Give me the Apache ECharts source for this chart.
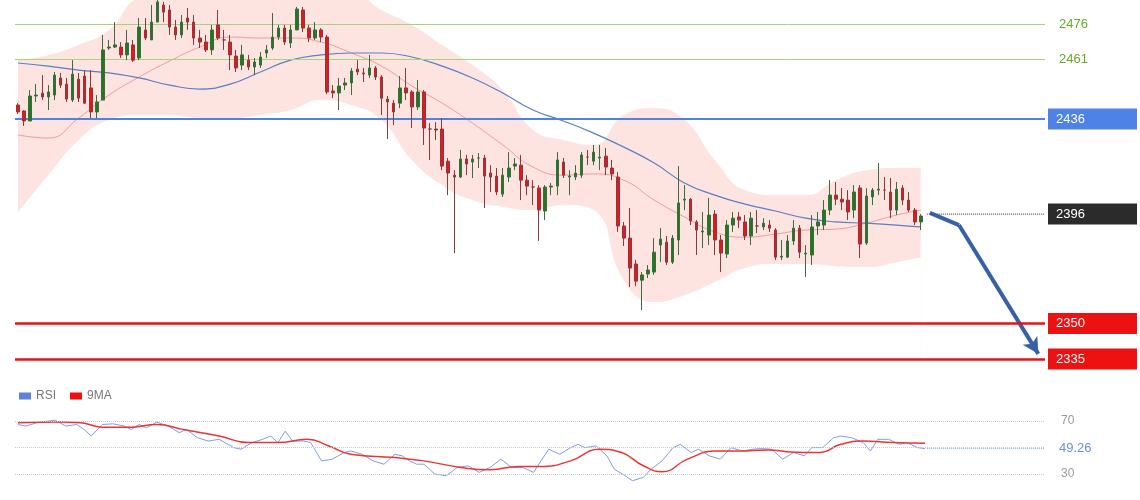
<!DOCTYPE html>
<html><head><meta charset="utf-8">
<script src="https://cdn.jsdelivr.net/npm/echarts@6/dist/echarts.min.js"></script>
<style>html,body{margin:0;padding:0;background:#fff}#c{width:1140px;height:500px}</style>
</head><body><div id="c"></div>
<script>
// candles: [open, close, low, high]
const candles = [
[2441.9,2439.0,2438.1,2442.7],[2439.4,2435.2,2433.1,2439.8],[2435.2,2445.7,2435.2,2448.2],[2445.7,2446.1,2443.2,2450.7],
[2446.9,2445.3,2444.0,2454.5],[2445.3,2447.4,2439.8,2450.3],[2446.1,2454.5,2444.0,2455.8],[2453.3,2450.3,2449.1,2455.4],
[2450.7,2444.4,2443.2,2453.3],[2444.0,2454.9,2443.2,2460.8],[2452.8,2444.8,2443.2,2455.4],[2454.1,2442.7,2442.3,2456.6],
[2449.1,2439.0,2436.4,2456.6],[2439.0,2443.2,2436.4,2446.1],[2444.0,2465.1,2444.0,2471.4],[2465.9,2466.3,2465.1,2469.3],
[2466.3,2467.2,2465.9,2476.8],[2466.3,2463.0,2461.7,2468.4],[2463.0,2468.0,2460.8,2473.5],[2467.2,2460.8,2460.0,2469.3],
[2461.7,2474.7,2460.8,2478.5],[2473.5,2470.1,2469.3,2478.5],[2469.3,2476.8,2469.3,2484.0],[2476.8,2485.3,2476.8,2486.1],
[2484.0,2481.0,2476.8,2485.3],[2481.9,2474.7,2471.4,2484.0],[2474.7,2471.4,2469.3,2477.7],[2471.4,2476.8,2470.1,2479.8],
[2478.5,2476.8,2473.5,2482.7],[2476.8,2470.1,2467.2,2479.8],[2470.1,2468.4,2465.9,2473.5],[2468.4,2465.1,2464.2,2471.4],
[2465.1,2473.5,2463.0,2475.6],[2475.6,2470.1,2469.3,2481.9],[2469.3,2469.3,2465.1,2473.5],[2468.4,2463.0,2456.6,2471.4],
[2462.5,2457.5,2455.8,2465.1],[2458.7,2463.0,2456.6,2467.2],[2460.8,2457.9,2456.6,2463.0],[2457.9,2460.0,2454.5,2461.7],
[2458.7,2462.1,2457.5,2464.2],[2463.8,2465.1,2461.7,2467.2],[2465.9,2470.5,2465.1,2480.6],[2470.5,2474.3,2469.3,2475.6],
[2474.3,2468.4,2467.2,2475.6],[2468.0,2473.5,2465.9,2475.6],[2473.5,2482.3,2473.5,2483.2],[2481.9,2474.3,2472.6,2483.2],
[2474.3,2470.1,2468.4,2475.6],[2470.1,2473.5,2469.3,2476.8],[2473.5,2470.5,2468.4,2474.3],[2470.5,2447.4,2446.5,2471.4],
[2447.8,2447.0,2444.8,2450.3],[2447.0,2449.9,2439.8,2453.3],[2450.3,2451.2,2448.2,2453.3],[2451.2,2456.2,2446.1,2457.5],
[2457.0,2455.8,2454.5,2460.8],[2455.4,2455.0,2451.6,2457.5],[2454.5,2457.5,2453.3,2463.0],[2457.5,2453.7,2452.4,2458.3],
[2453.7,2444.8,2437.7,2454.5],[2444.4,2443.2,2427.6,2445.7],[2442.7,2439.0,2433.5,2444.0],[2442.7,2449.1,2440.6,2454.1],
[2449.1,2447.0,2444.0,2457.5],[2447.4,2441.1,2432.2,2448.2],[2441.1,2447.4,2439.8,2452.4],[2447.4,2432.2,2425.1,2448.2],
[2431.8,2431.8,2418.8,2434.3],[2431.8,2431.4,2427.2,2434.7],[2431.8,2416.2,2414.5,2436.4],[2418.3,2413.3,2404.0,2419.6],
[2412.4,2411.6,2379.6,2414.5],[2411.6,2419.2,2411.2,2423.0],[2419.2,2417.1,2412.4,2420.9],[2417.9,2419.2,2411.2,2420.9],
[2419.6,2419.6,2415.4,2421.7],[2419.6,2412.0,2398.6,2420.9],[2413.3,2411.6,2405.3,2416.6],[2412.0,2405.3,2404.0,2415.4],
[2404.4,2412.4,2403.2,2415.4],[2411.6,2415.4,2409.5,2422.1],[2416.2,2417.1,2414.5,2419.6],[2416.6,2410.3,2401.9,2420.9],
[2410.3,2407.8,2404.0,2412.4],[2407.4,2407.4,2399.8,2410.3],[2407.0,2397.7,2384.7,2408.2],[2397.3,2407.4,2393.5,2408.2],
[2407.4,2407.8,2404.0,2409.1],[2407.8,2418.8,2404.0,2422.1],[2417.9,2412.4,2411.2,2419.6],[2411.6,2412.0,2404.0,2414.5],
[2411.6,2413.3,2410.3,2416.6],[2412.4,2420.9,2411.2,2422.1],[2420.0,2420.0,2416.6,2423.0],[2418.3,2422.1,2416.6,2425.1],
[2419.6,2420.0,2414.5,2425.1],[2420.4,2415.8,2412.4,2423.8],[2415.4,2412.9,2410.3,2418.8],[2411.6,2391.0,2388.5,2413.7],
[2391.0,2385.9,2382.6,2392.7],[2385.9,2373.3,2365.3,2398.6],[2375.0,2367.8,2365.7,2376.7],[2368.2,2370.4,2355.6,2371.6],
[2370.8,2372.5,2369.1,2374.6],[2371.6,2380.0,2370.4,2385.9],[2383.0,2385.5,2375.8,2390.1],[2384.2,2375.8,2374.6,2386.8],
[2375.8,2385.9,2375.0,2387.2],[2385.1,2400.7,2378.8,2416.2],[2401.9,2402.3,2397.7,2408.2],[2402.3,2393.1,2391.4,2402.8],
[2392.7,2389.3,2378.8,2393.5],[2388.5,2388.9,2381.7,2396.9],[2387.2,2395.6,2383.0,2402.8],[2396.0,2385.1,2378.8,2397.7],
[2385.1,2379.6,2371.6,2387.2],[2379.2,2391.4,2377.5,2393.5],[2391.4,2394.3,2388.5,2396.9],[2394.8,2393.5,2390.1,2396.9],
[2392.7,2386.8,2385.1,2395.6],[2386.8,2394.3,2383.0,2396.9],[2391.0,2391.0,2388.0,2397.7],[2390.6,2392.2,2389.3,2394.3],
[2391.4,2390.1,2388.5,2393.5],[2389.3,2377.9,2376.7,2390.1],[2377.9,2378.3,2376.7,2385.1],[2377.9,2384.7,2377.5,2387.2],
[2384.7,2390.1,2383.0,2393.5],[2390.1,2380.0,2377.5,2391.4],[2379.2,2379.6,2369.5,2383.0],[2378.8,2390.6,2374.6,2395.6],
[2391.0,2392.7,2387.2,2396.9],[2391.4,2397.7,2389.3,2401.9],[2397.7,2404.0,2395.6,2410.3],[2404.0,2402.3,2399.8,2409.5],
[2402.3,2401.1,2397.7,2407.0],[2401.9,2396.9,2393.5,2406.1],[2397.7,2405.3,2394.3,2408.2],[2407.0,2383.4,2377.5,2408.2],
[2383.8,2403.6,2383.0,2406.9],[2403.2,2406.1,2399.8,2407.0],[2406.1,2406.5,2404.0,2417.5],[2406.1,2406.1,2401.9,2411.6],
[2405.3,2397.7,2394.3,2411.2],[2397.7,2406.5,2395.6,2409.5],[2407.0,2401.9,2399.8,2408.2],[2401.9,2397.7,2396.9,2405.3],
[2397.7,2392.7,2391.4,2398.6],[2392.7,2395.2,2389.3,2396.0]
];
const sampleIdx = [0,5,10,15,20,25,30,35,40,45,50,55,60,65,70,75,80,85,90,95,100,105,110,115,120,125,130,135,140,145,149];
const bandUpper = [2460.8,2463.0,2467.2,2473.5,2487.0,2489.0,2488.0,2487.0,2487.0,2489.0,2488.0,2489.0,2481.9,2475.6,2467.2,2458.7,2448.2,2431.4,2427.2,2425.1,2437.7,2440.6,2435.6,2418.8,2406.1,2404.0,2404.0,2410.3,2414.5,2415.4,2415.4];
const bandLower = [2396.9,2412.4,2427.2,2435.6,2437.7,2437.7,2436.4,2436.4,2437.7,2439.8,2444.0,2441.9,2435.6,2418.8,2408.2,2401.9,2399.0,2397.7,2399.8,2397.7,2368.2,2359.0,2361.9,2367.4,2373.3,2375.0,2375.0,2374.1,2373.7,2375.8,2377.9];
const maPink = [2429.3,2428.0,2436.4,2446.1,2453.7,2460.4,2466.3,2470.5,2470.1,2470.1,2468.4,2463.8,2458.3,2449.9,2442.7,2434.3,2425.1,2415.8,2412.4,2412.9,2410.3,2401.9,2394.8,2388.5,2386.3,2387.6,2389.3,2389.7,2392.2,2395.6,2397.7];
const maBlue = [2459.6,2458.3,2456.6,2455.4,2453.3,2450.3,2448.6,2450.7,2455.8,2460.8,2463.0,2463.8,2463.8,2462.1,2458.3,2453.3,2447.0,2439.8,2435.2,2430.1,2424.2,2417.5,2409.1,2404.0,2400.2,2397.3,2394.3,2392.7,2392.2,2391.4,2390.6];
const levelsGreen = [2476, 2461];
const levelBlue = 2436;
const levelsRed = [2350, 2335];
const lastPrice = 2396;
const rsiIdx = [0,1.3,3.1,6.1,7.9,9.7,10.9,12.1,13.9,15.7,17.5,18.7,20,21.2,22.9,24.8,26.6,27.8,29.6,31.4,33.2,35.6,36.8,38.6,40.4,41.7,42.9,44.1,45.3,47.1,48.3,50.1,51.9,53.8,54.9,56.8,58.6,60.4,62.2,63.4,64.6,65.8,67.0,68.8,70.7,72.5,74.3,76.1,77.9,79.7,81.5,83.3,85.1,86.3,87.6,89.4,91.2,92.4,93.6,95.4,97.2,98.4,100.2,101.4,103.2,104.5,106.3,108.1,109.3,111.1,112.3,114.1,115.9,117.7,119.5,121.3,122.6,124.4,126.2,128.0,129.8,131.0,132.8,134.6,135.8,137.6,139.5,140.7,141.9,143.7,145.5,146.7,148.5,149.7];
const rsiVal = [67.5,66.3,68.8,70.8,66.3,67.5,63.8,58.8,67.5,68,66.3,63.8,67.5,65,69.3,66.3,61.3,63.8,57.5,55,56.3,50,48.8,53.8,56.3,58.8,53.8,62.5,55,55,53.8,40,41.3,46.3,47.5,45,40,37.5,45,43.8,40,37.5,37.5,30,28.8,35,36.3,31.3,35,41.3,35,35,31.3,40,48.8,45,50,52.5,50,51.3,43.8,33.8,28.8,25,27.5,33.8,40,50,52.5,46.3,48.8,43.8,41.3,50,47.5,48.8,49.3,48.8,41.3,46.3,43.8,50,50,57.5,58.8,57.5,53.8,47.5,56.3,56.3,52.5,53.8,50,49.26];
const ma9Idx = [0,6.9,10.3,13.9,18.7,22.9,27.2,33.2,38.1,42.9,47.7,51.3,54.9,62.2,67.0,73.1,77.9,82.7,86.3,91.2,96.0,99.6,103.2,106.3,110.5,115.3,118.9,123.8,127.4,132.2,135.8,139.5,144.3,149.7];
const ma9Val = [68.8,69.3,68.8,65.5,65.5,67.5,63.8,58.8,53.8,53.8,56.3,51.3,45,42.5,40,35,33.3,35.8,35.8,40,48.8,46.3,36.3,31.8,41.3,47.5,47.5,48.3,46.8,46.3,52.5,55,53.8,53.3];
const rsiRefs = [70, 50, 30];

const cats = [];
for (let i = 0; i < 170; i++) cats.push(i);
const pair = (xs, ys) => xs.map((x, k) => [x, ys[k]]);

const boxLabel = (txt, bg) => ({
  show: true, position: 'end', distance: 3, formatter: txt, color: '#fff',
  backgroundColor: bg, padding: [4, 8], width: 73, fontSize: 13, fontFamily: 'Arial, Liberation Sans'
});
const dotStyle = {color: '#333', width: 1, type: 'dotted'};

const chart = echarts.init(document.getElementById('c'));
chart.setOption({
  animation: false,
  backgroundColor: '#fff',
  legend: {
    data: [{name: 'RSI', icon: 'rect'}, {name: '9MA', icon: 'rect'}],
    left: 14, top: 385, itemWidth: 12, itemHeight: 7, itemGap: 14,
    textStyle: {color: '#777', fontSize: 12, fontFamily: 'Arial, Liberation Sans'}
  },
  grid: [
    {left: 15, right: 95, top: 0, height: 380},
    {left: 15, right: 95, top: 400, height: 90}
  ],
  xAxis: [
    {type: 'category', data: cats, gridIndex: 0, boundaryGap: true, show: false},
    {type: 'value', gridIndex: 0, min: -0.5, max: 169.5, show: false},
    {type: 'value', gridIndex: 1, min: -0.5, max: 169.5, show: false}
  ],
  yAxis: [
    {type: 'value', gridIndex: 0, min: 2326.2, max: 2486.1, show: false, splitLine: {show: false}},
    {type: 'value', gridIndex: 1, min: 18, max: 86, show: false, splitLine: {show: false}}
  ],
  series: [
    {type: 'line', xAxisIndex: 1, yAxisIndex: 0, data: pair(sampleIdx, bandUpper), smooth: true,
     symbol: 'none', lineStyle: {opacity: 0}, areaStyle: {color: '#fde4e1', opacity: 1}, z: 1},
    {type: 'line', xAxisIndex: 1, yAxisIndex: 0, data: pair(sampleIdx, bandLower), smooth: true,
     symbol: 'none', lineStyle: {width: 0, color: '#fff'}, areaStyle: {color: '#ffffff', opacity: 1}, z: 1.5},
    {type: 'line', xAxisIndex: 1, yAxisIndex: 0, data: pair(sampleIdx, maPink), smooth: true, symbol: 'none',
     lineStyle: {color: '#f19a9a', width: 1}, z: 2},
    {type: 'line', xAxisIndex: 1, yAxisIndex: 0, data: pair(sampleIdx, maBlue), smooth: true, symbol: 'none',
     lineStyle: {color: '#5a7fc4', width: 1.2}, z: 2,
     markLine: {
       silent: true, animation: false, symbol: ['none', 'arrow'], symbolSize: [13, 16],
       lineStyle: {color: '#3760a6', width: 4, type: 'solid'}, label: {show: false},
       data: [
         [{coord: [150.5, 2396.5], symbol: 'none'}, {coord: [155.3, 2391.4], symbol: 'none'}],
         [{coord: [155.3, 2391.4], symbol: 'none'}, {coord: [168.4, 2337.2]}]
       ]
     }},
    {type: 'line', xAxisIndex: 1, yAxisIndex: 0, data: [[150, lastPrice], [169.5, lastPrice]], symbol: 'none',
     lineStyle: dotStyle, z: 3,
     endLabel: {show: true, distance: 3, formatter: String(lastPrice), color: '#fff', backgroundColor: '#2b2b2b',
       padding: [4, 8], width: 73, fontSize: 13, fontFamily: 'Arial, Liberation Sans'}},
    {type: 'candlestick', xAxisIndex: 0, yAxisIndex: 0, data: candles, barMaxWidth: 4.5, z: 5,
     itemStyle: {color: '#1f7a1f', color0: '#e8161b', borderColor: '#3d6b3d', borderColor0: '#8a3a3a', borderWidth: 1},
     markLine: {
       silent: true, animation: false, symbol: ['none', 'none'],
       data: [
         {yAxis: levelsGreen[0], lineStyle: {color: '#a5d47a', width: 1, type: 'solid'},
          label: {show: true, position: 'end', distance: 14, formatter: String(levelsGreen[0]), color: '#6aaa2a', fontSize: 13}},
         {yAxis: levelsGreen[1], lineStyle: {color: '#a5d47a', width: 1, type: 'solid'},
          label: {show: true, position: 'end', distance: 14, formatter: String(levelsGreen[1]), color: '#6aaa2a', fontSize: 13}},
         {yAxis: levelBlue, lineStyle: {color: '#4f82e6', width: 2, type: 'solid'}, label: boxLabel(String(levelBlue), '#4f82e6')},
         {yAxis: levelsRed[0], lineStyle: {color: '#e3141b', width: 2.5, type: 'solid'}, label: boxLabel(String(levelsRed[0]), '#ee1111')},
         {yAxis: levelsRed[1], lineStyle: {color: '#e3141b', width: 2.5, type: 'solid'}, label: boxLabel(String(levelsRed[1]), '#ee1111')}
       ]
     }},
    {name: 'RSI', type: 'line', xAxisIndex: 2, yAxisIndex: 1, data: pair(rsiIdx, rsiVal), symbol: 'none',
     lineStyle: {color: '#7d9ee6', width: 1}, itemStyle: {color: '#5b82e0'}, z: 3,
     markLine: {
       silent: true, animation: false, symbol: ['none', 'none'],
       data: [
         {yAxis: rsiRefs[0], lineStyle: {color: '#c8c8c8', width: 1, type: 'dotted'},
          label: {show: true, position: 'end', distance: 16, formatter: '70', color: '#999', fontSize: 12}},
         {yAxis: rsiRefs[1], lineStyle: {color: '#c8c8c8', width: 1, type: 'dotted'}, label: {show: false}},
         {yAxis: rsiRefs[2], lineStyle: {color: '#c8c8c8', width: 1, type: 'dotted'},
          label: {show: true, position: 'end', distance: 16, formatter: '30', color: '#999', fontSize: 12}}
       ]
     }},
    {type: 'line', xAxisIndex: 2, yAxisIndex: 1, data: [[150, 49.26], [169.5, 49.26]], symbol: 'none',
     lineStyle: {color: '#8aa6e8', width: 1, type: 'dotted'}, z: 3,
     endLabel: {show: true, distance: 14, formatter: '49.26', color: '#6b8fd6', fontSize: 13}},
    {name: '9MA', type: 'line', xAxisIndex: 2, yAxisIndex: 1, data: pair(ma9Idx, ma9Val), smooth: true, symbol: 'none',
     lineStyle: {color: '#ee3333', width: 1.5}, itemStyle: {color: '#ee1111'}, z: 4}
  ]
});
</script></body></html>
